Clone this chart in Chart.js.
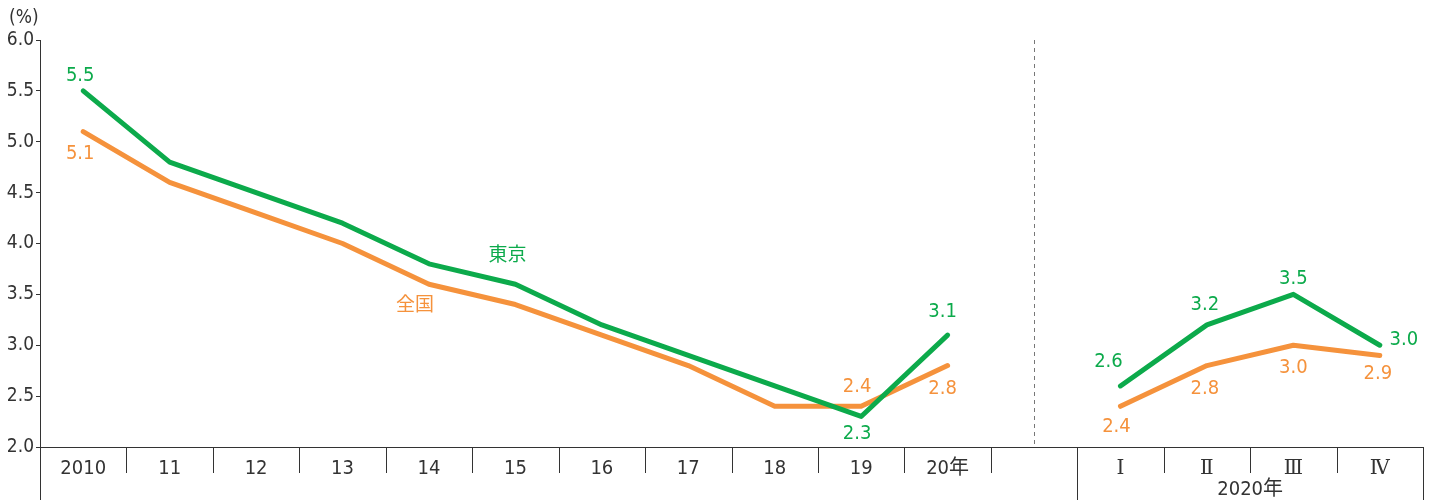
<!DOCTYPE html>
<html>
<head>
<meta charset="utf-8">
<script src="https://cdn.jsdelivr.net/npm/chart.js@4"></script>
<style>
  html, body { margin: 0; padding: 0; background: #fff; }
  #wrap { width: 1434px; height: 503px; position: relative; }
</style>
</head>
<body>
<div id="wrap"><canvas id="c"></canvas></div>
<script>
const categories = ['2010', '11', '12', '13', '14', '15', '16', '17', '18', '19', '20年', '', 'Ⅰ', 'Ⅱ', 'Ⅲ', 'Ⅳ'];
const tokyo  = [5.5, 4.8, 4.5, 4.2, 3.8, 3.6, 3.2, 2.9, 2.6, 2.3, 3.1, null, 2.6, 3.2, 3.5, 3.0];
const zenkoku = [5.1, 4.6, 4.3, 4.0, 3.6, 3.4, 3.1, 2.8, 2.4, 2.4, 2.8, null, 2.4, 2.8, 3.0, 2.9];
const yTicks = [2.0, 2.5, 3.0, 3.5, 4.0, 4.5, 5.0, 5.5, 6.0];
const groupLabel = '2020年';

const GREEN = '#0caa4b';
const ORANGE = '#f5923c';
const AXIS = '#333';
const FONT = '"Liberation Sans Narrow", "DejaVu Sans Condensed", "Noto Sans CJK JP", sans-serif';

// ラベル位置 (データ点からのずれ)
const pointLabels = [
    { ds: 0, i: 0, dx: -3, dy: -15 }, { ds: 0, i: 9, dx: -4, dy: 17 }, { ds: 0, i: 10, dx: -5, dy: -23 },
    { ds: 0, i: 12, dx: -12, dy: -24 }, { ds: 0, i: 13, dx: -2, dy: -20 }, { ds: 0, i: 14, dx: 0, dy: -16 },
    { ds: 0, i: 15, dx: 24, dy: -5 },
    { ds: 1, i: 0, dx: -3, dy: 22 }, { ds: 1, i: 9, dx: -4, dy: -20 }, { ds: 1, i: 10, dx: -5, dy: 23 },
    { ds: 1, i: 12, dx: -4, dy: 20 }, { ds: 1, i: 13, dx: -2, dy: 23 }, { ds: 1, i: 14, dx: 0, dy: 23 },
    { ds: 1, i: 15, dx: -2, dy: 18 }
];
const seriesNames = [
    { ds: 0, text: '東京', i: 5, dx: -8, dy: -28 },
    { ds: 1, text: '全国', i: 4, dx: -14, dy: 22 }
];

const decorPlugin = {
    id: 'decor',
    afterDraw(chart) {
        const ctx = chart.ctx;
        const x = chart.scales.x;
        const y = chart.scales.y;
        const area = chart.chartArea;
        const step = x.getPixelForValue(1) - x.getPixelForValue(0);
        const n = categories.length;
        ctx.save();

        // 区切り線
        ctx.strokeStyle = AXIS;
        ctx.lineWidth = 1;
        for (let k = 1; k <= n; k++) {
            const bx = Math.round(x.getPixelForValue(k) - step / 2) + 0.5;
            const long = (k === 12 || k === n);
            ctx.beginPath();
            ctx.moveTo(bx, area.bottom);
            ctx.lineTo(bx, long ? 500 : area.bottom + 26);
            ctx.stroke();
        }
        // 縦軸の延長
        ctx.beginPath();
        ctx.moveTo(area.left + 0.5, area.bottom);
        ctx.lineTo(area.left + 0.5, 500);
        ctx.stroke();

        // 点線
        const dxp = Math.round(x.getPixelForValue(11)) + 0.5;
        ctx.strokeStyle = '#777';
        ctx.setLineDash([4, 4]);
        ctx.beginPath();
        ctx.moveTo(dxp, area.top);
        ctx.lineTo(dxp, area.bottom);
        ctx.stroke();
        ctx.setLineDash([]);

        // 2020年
        ctx.fillStyle = AXIS;
        ctx.font = '20px ' + FONT;
        ctx.textAlign = 'center';
        ctx.textBaseline = 'middle';
        const gx = (x.getPixelForValue(12) + x.getPixelForValue(15)) / 2;
        ctx.fillText(groupLabel, gx, 490);

        // (%)
        ctx.font = '19px ' + FONT;
        ctx.textAlign = 'left';
        ctx.fillText('(%)', 9, 18);

        // 数値ラベル
        ctx.font = '20px ' + FONT;
        ctx.textAlign = 'center';
        pointLabels.forEach(p => {
            const data = chart.data.datasets[p.ds].data;
            const v = data[p.i];
            ctx.fillStyle = p.ds === 0 ? GREEN : ORANGE;
            ctx.fillText(v.toFixed(1), x.getPixelForValue(p.i) + p.dx, y.getPixelForValue(v) + p.dy);
        });

        // 系列名
        ctx.font = '19px ' + FONT;
        seriesNames.forEach(s => {
            const v = chart.data.datasets[s.ds].data[s.i];
            ctx.fillStyle = s.ds === 0 ? GREEN : ORANGE;
            ctx.fillText(s.text, x.getPixelForValue(s.i) + s.dx, y.getPixelForValue(v) + s.dy);
        });
        ctx.restore();
    }
};

new Chart(document.getElementById('c'), {
    type: 'line',
    data: {
        labels: categories,
        datasets: [
            { label: '東京', data: tokyo, borderColor: GREEN, borderWidth: 5 },
            { label: '全国', data: zenkoku, borderColor: ORANGE, borderWidth: 5 }
        ]
    },
    options: {
        responsive: true,
        maintainAspectRatio: false,
        animation: false,
        layout: { padding: { top: 40, right: 11, left: 0, bottom: 0 } },
        elements: {
            point: { radius: 0 },
            line: { tension: 0, borderCapStyle: 'round', borderJoinStyle: 'round' }
        },
        plugins: { legend: { display: false }, tooltip: { enabled: false } },
        scales: {
            x: {
                offset: true,
                grid: { display: false },
                border: { color: AXIS, width: 1 },
                ticks: {
                    color: AXIS,
                    font: (c) => ({ size: 20, family: c.index >= 12 ? '"DejaVu Serif", serif' : FONT }),
                    padding: 2, maxRotation: 0, autoSkip: false
                },
                afterFit: (s) => { s.height = 56; }
            },
            y: {
                min: 2, max: 6,
                afterBuildTicks: (s) => { s.ticks = yTicks.map(v => ({ value: v })); },
                grid: { drawOnChartArea: false, tickLength: 4, color: AXIS },
                border: { color: AXIS, width: 1 },
                ticks: { color: AXIS, font: { size: 19, family: FONT }, padding: 2, callback: (v) => Number(v).toFixed(1) },
                afterFit: (s) => { s.width = 40; }
            }
        }
    },
    plugins: [decorPlugin]
});
</script>
</body>
</html>
